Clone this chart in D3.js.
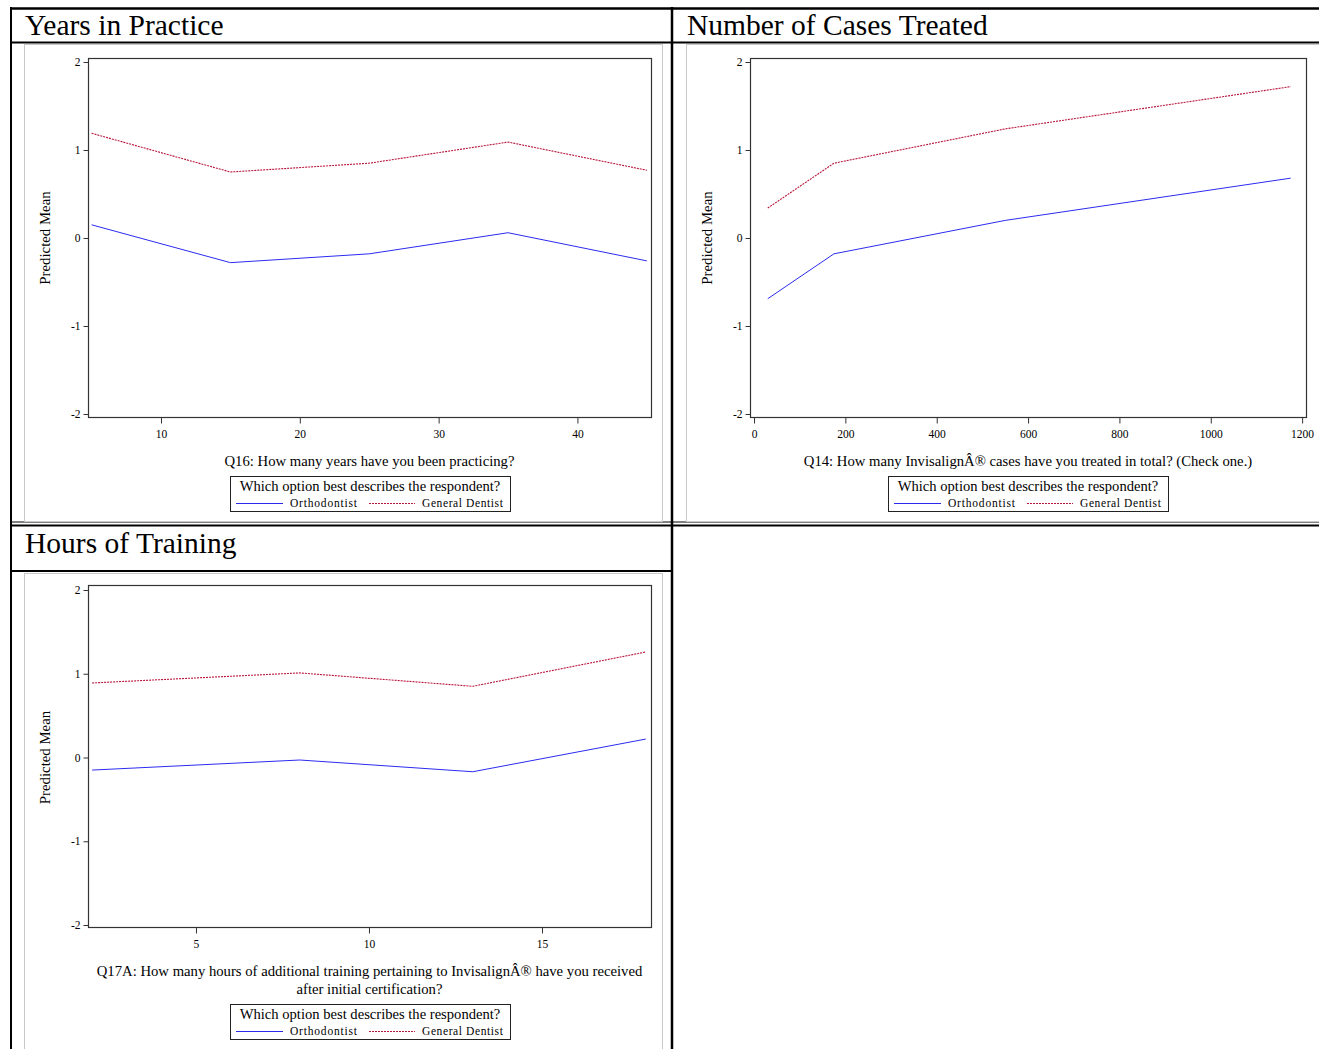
<!DOCTYPE html>
<html>
<head>
<meta charset="utf-8">
<script src="https://cdn.jsdelivr.net/npm/d3@7"></script>
<style>
  body { margin: 0; background: #fff; }
  svg text { font-family: "Liberation Serif", "Times New Roman", serif; fill: #000; }
</style>
</head>
<body>
<svg id="chart" width="1319" height="1049"></svg>
<script>
// panel 1: years in practice
const yearsX = [5, 15, 25, 35, 45];
const yearsOrtho = [0.15, -0.28, -0.18, 0.06, -0.26];
const yearsGen = [1.19, 0.75, 0.85, 1.09, 0.77];
const yearsTicks = [10, 20, 30, 40];

// panel 2: number of cases treated
const casesX = [30, 175, 550, 1175];
const casesOrtho = [-0.69, -0.18, 0.20, 0.68];
const casesGen = [0.34, 0.85, 1.24, 1.72];
const casesTicks = [0, 200, 400, 600, 800, 1000, 1200];

// panel 3: hours of training
const hoursX = [2, 8, 13, 18];
const hoursOrtho = [-0.15, -0.03, -0.17, 0.22];
const hoursGen = [0.89, 1.01, 0.85, 1.26];
const hoursTicks = [5, 10, 15];

const yTicks = [-2, -1, 0, 1, 2];
const legendTitle = "Which option best describes the respondent?";
const seriesNames = ["Orthodontist", "General Dentist"];

const svg = d3.select("#chart");
const blue = "#2b2bf0";
const red = "#b8163c";

// table grid
const grid = svg.append("g");
function hline(y, x1, x2, w) {
  grid.append("line").attr("x1", x1).attr("x2", x2).attr("y1", y).attr("y2", y)
    .attr("stroke", "#000").attr("stroke-width", w);
}
function vline(x, y1, y2, w) {
  grid.append("line").attr("x1", x).attr("x2", x).attr("y1", y1).attr("y2", y2)
    .attr("stroke", "#000").attr("stroke-width", w);
}

// light image borders
[[24, 44, 638, 477], [686, 44, 640, 477], [24, 573, 638, 480]].forEach(r => {
  svg.append("rect").attr("x", r[0] + 0.5).attr("y", r[1] + 0.5)
    .attr("width", r[2]).attr("height", r[3])
    .attr("fill", "none").attr("stroke", "#c8c8c8").attr("stroke-width", 1);
});

hline(8.5, 10, 1319, 2.5);
hline(42.5, 10, 1319, 2);
hline(522, 10, 1319, 1);
hline(525.5, 10, 1319, 2);
hline(571, 10, 672, 2);
vline(11, 7, 1049, 2);
vline(672, 7, 1049, 2.5);

svg.append("text").attr("x", 25).attr("y", 35).attr("font-size", 29.5).text("Years in Practice");
svg.append("text").attr("x", 687).attr("y", 35).attr("font-size", 29.5).text("Number of Cases Treated");
svg.append("text").attr("x", 25).attr("y", 553).attr("font-size", 29.5).text("Hours of Training");

function panel(opt) {
  const g = svg.append("g");
  const x = d3.scaleLinear().domain(opt.xDomain).range([opt.left, opt.right]);
  const y = d3.scaleLinear().domain([-2, 2]).range([opt.y0, opt.y1]);

  // frame
  g.append("rect").attr("x", opt.left + 0.5).attr("y", opt.top + 0.5)
    .attr("width", opt.right - opt.left).attr("height", opt.bottom - opt.top)
    .attr("fill", "none").attr("stroke", "#333").attr("stroke-width", 1.2);

  const yAxis = g.append("g").attr("transform", `translate(${opt.left + 0.5},0)`)
    .call(d3.axisLeft(y).tickValues(yTicks).tickSize(5).tickPadding(3).tickFormat(d => String(d)));
  const xAxis = g.append("g").attr("transform", `translate(0,${opt.bottom + 0.5})`)
    .call(d3.axisBottom(x).tickValues(opt.ticks).tickSize(6).tickPadding(6).tickFormat(d => String(d)));
  [yAxis, xAxis].forEach(a => {
    a.attr("font-size", 11.5).attr("font-family", "Liberation Serif");
    a.select(".domain").remove();
    a.selectAll("line").attr("stroke", "#333");
  });

  const line = d3.line().x((d, i) => x(opt.xs[i])).y(d => y(d));
  g.append("path").datum(opt.ortho).attr("d", line)
    .attr("fill", "none").attr("stroke", blue).attr("stroke-width", 1);
  g.append("path").datum(opt.gen).attr("d", line)
    .attr("fill", "none").attr("stroke", red).attr("stroke-width", 1.1)
    .attr("stroke-dasharray", "2,1");

  const cx = (opt.left + opt.right) / 2;
  g.append("text").attr("transform", `translate(${opt.left - 38},${(opt.y0 + opt.y1) / 2}) rotate(-90)`)
    .attr("text-anchor", "middle").attr("font-size", 14.8).text("Predicted Mean");

  opt.label.forEach((t, i) => {
    g.append("text").attr("x", cx).attr("y", opt.labelY + i * 18)
      .attr("text-anchor", "middle").attr("font-size", 14.7).text(t);
  });

  // legend
  const lw = 280, lh = 35;
  const lx = Math.round(cx - lw / 2), ly = opt.legendY;
  const lg = g.append("g");
  lg.append("rect").attr("x", lx + 0.5).attr("y", ly + 0.5).attr("width", lw).attr("height", lh)
    .attr("fill", "none").attr("stroke", "#222").attr("stroke-width", 1);
  lg.append("text").attr("x", lx + lw / 2).attr("y", ly + 15).attr("text-anchor", "middle")
    .attr("font-size", 14.6).text(legendTitle);
  const iy = ly + 27.5;
  lg.append("line").attr("x1", lx + 6).attr("x2", lx + 53).attr("y1", iy).attr("y2", iy)
    .attr("stroke", blue).attr("stroke-width", 1);
  lg.append("text").attr("x", lx + 60).attr("y", iy + 3.5).attr("font-size", 11.5)
    .attr("letter-spacing", 0.8).text(seriesNames[0]);
  lg.append("line").attr("x1", lx + 139).attr("x2", lx + 185).attr("y1", iy).attr("y2", iy)
    .attr("stroke", red).attr("stroke-width", 1).attr("stroke-dasharray", "2,1");
  lg.append("text").attr("x", lx + 192).attr("y", iy + 3.5).attr("font-size", 11.5)
    .attr("letter-spacing", 0.6).text(seriesNames[1]);
}

panel({
  xs: yearsX, ortho: yearsOrtho, gen: yearsGen, ticks: yearsTicks,
  xDomain: [4.74, 45.3], left: 88, right: 651, top: 58, bottom: 417, y0: 414, y1: 62,
  label: ["Q16: How many years have you been practicing?"], labelY: 466, legendY: 476
});
panel({
  xs: casesX, ortho: casesOrtho, gen: casesGen, ticks: casesTicks,
  xDomain: [-8.8, 1208.5], left: 750, right: 1306, top: 58, bottom: 417, y0: 414, y1: 62,
  label: ["Q14: How many InvisalignÂ® cases have you treated in total? (Check one.)"], labelY: 466, legendY: 476
});
panel({
  xs: hoursX, ortho: hoursOrtho, gen: hoursGen, ticks: hoursTicks,
  xDomain: [1.88, 18.15], left: 88, right: 651, top: 585, bottom: 927, y0: 925, y1: 590,
  label: ["Q17A: How many hours of additional training pertaining to InvisalignÂ® have you received",
          "after initial certification?"], labelY: 976, legendY: 1004
});
</script>
</body>
</html>
